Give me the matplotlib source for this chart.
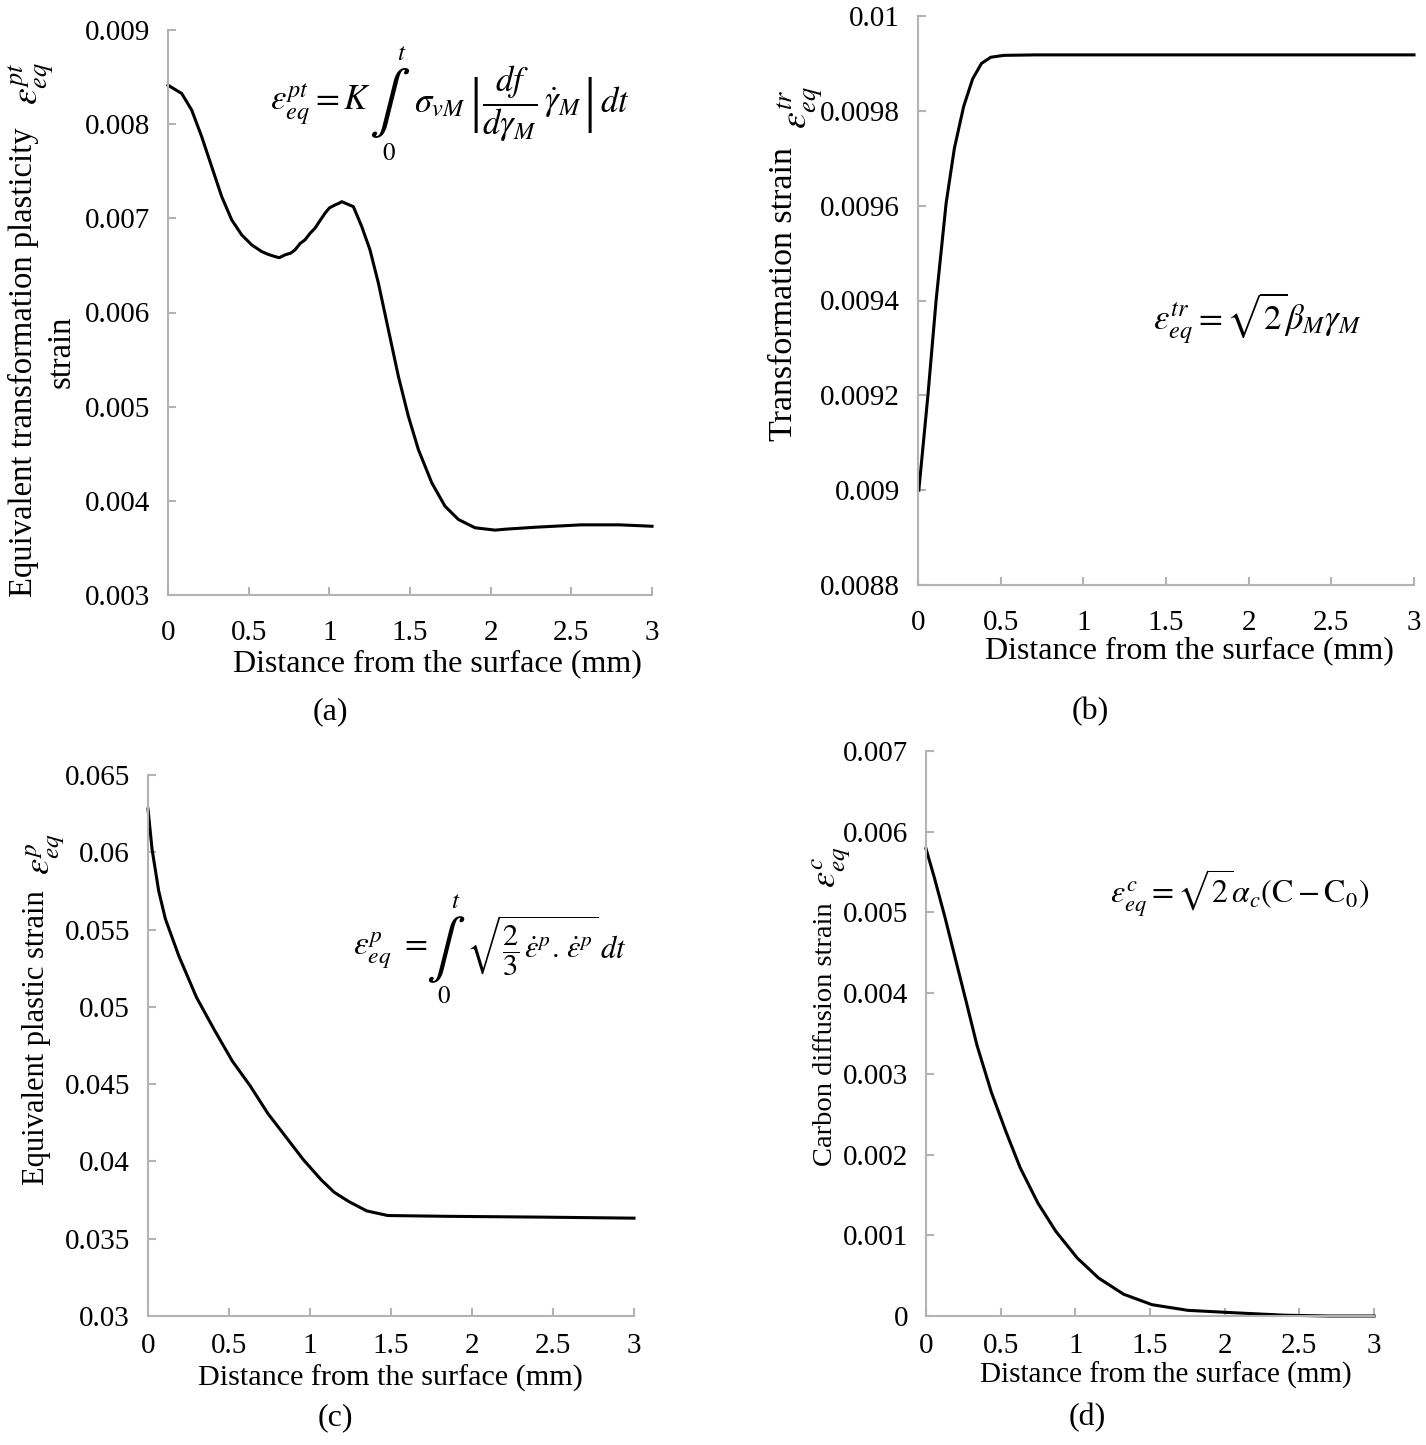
import numpy as np
import matplotlib
matplotlib.use('Agg')
import matplotlib.pyplot as plt

plt.rcParams['font.family'] = ['Liberation Serif', 'DejaVu Serif']
plt.rcParams['mathtext.fontset'] = 'stix'

W, H = 1426, 1445

# (a) transformation plasticity strain
xa = [0.0, 0.085, 0.147, 0.209, 0.271, 0.333, 0.395, 0.457, 0.519, 0.581, 0.62, 0.663,
      0.69, 0.725, 0.76, 0.787, 0.82, 0.849, 0.88, 0.911, 0.94, 0.973, 1.0, 1.035, 1.06,
      1.077, 1.1, 1.149, 1.201, 1.252, 1.304, 1.366, 1.428, 1.49, 1.552, 1.635, 1.717,
      1.8, 1.903, 2.027, 2.1, 2.28, 2.56, 2.8, 3.0]
ya = [0.008414, 0.008326, 0.008149, 0.007866, 0.007548, 0.00723, 0.006983, 0.006824,
      0.006718, 0.006647, 0.006618, 0.006594, 0.006582, 0.006612, 0.006630, 0.006665,
      0.006735, 0.006771, 0.006840, 0.006895, 0.006970, 0.007054, 0.007110, 0.007142,
      0.007160, 0.007177, 0.007160, 0.007124, 0.006912, 0.006665, 0.006312, 0.005817,
      0.005322, 0.004897, 0.004544, 0.004191, 0.003943, 0.003802, 0.003714, 0.003689,
      0.003700, 0.003720, 0.003745, 0.003745, 0.003730]

# (b) transformation strain
xb = [0.005, 0.06, 0.11, 0.17, 0.22, 0.276, 0.33, 0.384, 0.44, 0.52, 0.71, 1.5, 3.0]
yb = [0.00900, 0.00920, 0.009402, 0.009605, 0.009721, 0.009809, 0.009867, 0.00990,
      0.009913, 0.009917, 0.009918, 0.009918, 0.009918]

# (c) plastic strain
xc = [0.0, 0.025, 0.066, 0.107, 0.19, 0.30, 0.41, 0.52, 0.63, 0.74, 0.85, 0.96, 1.07,
      1.15, 1.24, 1.35, 1.48, 1.84, 2.4, 3.0]
yc = [0.0628, 0.0602, 0.0575, 0.0557, 0.0533, 0.0506, 0.0485, 0.0465, 0.0449, 0.0431,
      0.0416, 0.0401, 0.0388, 0.0380, 0.0374, 0.0368, 0.0365, 0.03645, 0.0364, 0.03633]

# (d) carbon diffusion strain
xd = [0.0, 0.056, 0.127, 0.199, 0.271, 0.342, 0.438, 0.534, 0.63, 0.749, 0.869, 1.012,
      1.156, 1.323, 1.514, 1.754, 2.065, 2.4, 2.7, 3.0]
yd = [0.00579, 0.00543, 0.00494, 0.00441, 0.00388, 0.00335, 0.00277, 0.00229, 0.00184,
      0.00140, 0.00105, 0.00072, 0.00047, 0.00027, 0.00014, 0.00007, 0.00004, 0.00001,
      0.0, 0.0]

xticks = [0, 0.5, 1, 1.5, 2, 2.5, 3]
xtick_labels = ['0', '0.5', '1', '1.5', '2', '2.5', '3']
yticks_a = [0.003, 0.004, 0.005, 0.006, 0.007, 0.008, 0.009]
ylabels_a = ['0.003', '0.004', '0.005', '0.006', '0.007', '0.008', '0.009']
yticks_b = [0.0088, 0.009, 0.0092, 0.0094, 0.0096, 0.0098, 0.01]
ylabels_b = ['0.0088', '0.009', '0.0092', '0.0094', '0.0096', '0.0098', '0.01']
yticks_c = [0.03, 0.035, 0.04, 0.045, 0.05, 0.055, 0.06, 0.065]
ylabels_c = ['0.03', '0.035', '0.04', '0.045', '0.05', '0.055', '0.06', '0.065']
yticks_d = [0, 0.001, 0.002, 0.003, 0.004, 0.005, 0.006, 0.007]
ylabels_d = ['0', '0.001', '0.002', '0.003', '0.004', '0.005', '0.006', '0.007']

xlabel = 'Distance from the surface (mm)'

fig = plt.figure(figsize=(W / 100, H / 100), dpi=100)
renderer = fig.canvas.get_renderer()


def add_ax(l, r, t, b):
    return fig.add_axes([l / W, 1 - b / H, (r - l) / W, (b - t) / H])


def ftext(x, y, s, ha='center', va='center', **kw):
    return fig.text(x / W, 1 - y / H, s, ha=ha, va=va, **kw)


def ylab(x, bottom, label, eps, size, eps_size=27, dx=8, gap=8):
    # rotated label, then the strain symbol just above its end
    t = ftext(x, bottom, label, va='bottom', fontsize=size, rotation=90)
    top = H - t.get_window_extent(renderer).y1
    e = ftext(x + dx, top - gap, eps, va='bottom', fontsize=eps_size, rotation=90)
    return t, e


def style(ax, yt, yl, xpad=18):
    for s in ['top', 'right']:
        ax.spines[s].set_visible(False)
    for s in ['left', 'bottom']:
        ax.spines[s].set_color('#b3b3b3')
        ax.spines[s].set_linewidth(1.5)
    ax.set_xlim(0, 3)
    ax.set_ylim(yt[0], yt[-1])
    ax.set_xticks(xticks)
    ax.set_xticklabels(xtick_labels)
    ax.set_yticks(yt)
    ax.set_yticklabels(yl)
    ax.tick_params(direction='in', length=6, width=1.5, color='#b3b3b3',
                   labelsize=21, pad=13)
    ax.tick_params(axis='x', pad=xpad)
    ax.patch.set_alpha(0)


def integral(x, y, top, bottom, size=44):
    # tall integral sign with limits above and below
    ftext(x, y, r'$\int$', fontsize=size)
    ftext(top[0], top[1], r'$t$', fontsize=18)
    ftext(bottom[0], bottom[1], r'$0$', fontsize=18)


# (a)
ax = add_ax(168, 652, 30, 595)
style(ax, yticks_a, ylabels_a)
ax.plot(xa, ya, color='black', lw=2.2, clip_on=False)
ftext(437, 664, xlabel, fontsize=23)
ylab(23, 597, 'Equivalent transformation plasticity', r'$\varepsilon_{eq}^{pt}$', 23.5,
     gap=22)
ftext(61, 352, 'strain', fontsize=23.5, rotation=90)
ftext(270, 104, r'$\varepsilon_{eq}^{pt} = K$', ha='left', fontsize=25)
integral(390, 103, (402, 54), (389, 154))
ftext(414, 104, r'$\sigma_{vM}$', ha='left', fontsize=25)
ftext(476, 105, '|', fontsize=44)
ftext(482, 104, r'$\dfrac{df}{d\gamma_M}\,\dot{\gamma}_M$', ha='left', fontsize=25)
ftext(589, 105, '|', fontsize=44)
ftext(600, 104, r'$dt$', ha='left', fontsize=25)
ftext(330, 712, '(a)', fontsize=23)

# (b)
ax = add_ax(918, 1414, 16, 585)
style(ax, yticks_b, ylabels_b)
ax.plot(xb, yb, color='black', lw=2.2, clip_on=False)
ftext(1189, 651, xlabel, fontsize=23)
ylab(784, 441, 'Transformation strain', r'$\varepsilon_{eq}^{tr}$', 24.5, dx=16, gap=18)
ftext(1257, 318, r'$\varepsilon_{eq}^{tr} = \sqrt{2}\beta_M\gamma_M$', fontsize=25)
ftext(1090, 712, '(b)', fontsize=23)

# (c)
ax = add_ax(148, 634, 775, 1316)
style(ax, yticks_c, ylabels_c, xpad=12)
ax.plot(xc, yc, color='black', lw=2.2, clip_on=False)
ftext(390, 1378, xlabel, fontsize=21.7)
ylab(37, 1185, 'Equivalent plastic strain', r'$\varepsilon_{eq}^{p}$', 22, eps_size=26,
     dx=9, gap=15)
ftext(353, 950, r'$\varepsilon_{eq}^{p}\ =$', ha='left', fontsize=24)
integral(446, 950, (456, 902), (444, 997), size=42)
ftext(466, 946, r'$\sqrt{\dfrac{2}{3}\,\dot{\varepsilon}^{p}.\,\dot{\varepsilon}^{p}}\,dt$',
      ha='left', fontsize=22)
ftext(335, 1418, '(c)', fontsize=23)

# (d)
ax = add_ax(926, 1374, 751, 1316)
style(ax, yticks_d, ylabels_d, xpad=12)
ax.plot(xd, yd, color='black', lw=2.2, clip_on=False)
ftext(1166, 1375, xlabel, fontsize=21)
ylab(826, 1166, 'Carbon diffusion strain', r'$\varepsilon_{eq}^{c}$', 20.5, eps_size=26,
     dx=6, gap=14)
ftext(1240, 893, r'$\varepsilon_{eq}^{c} = \sqrt{2}\alpha_c(\mathrm{C}-\mathrm{C}_0)$',
      fontsize=23)
ftext(1087, 1418, '(d)', fontsize=23)

fig.savefig('out.png', dpi=100, facecolor='white')
